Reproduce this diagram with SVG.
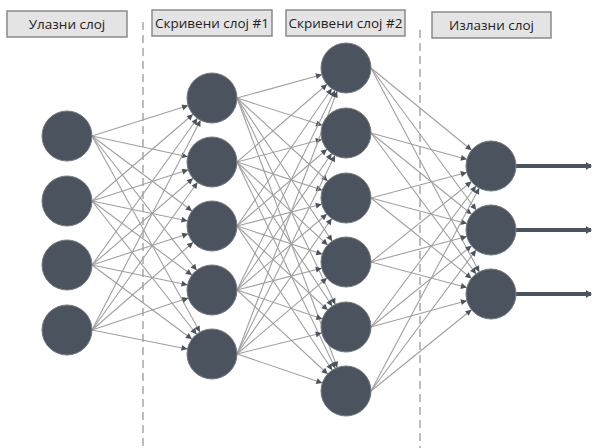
<svg xmlns="http://www.w3.org/2000/svg" width="593" height="448" viewBox="0 0 593 448">
<style>
.lbl rect{fill:#e4e4e4;stroke:#8a8a8a;stroke-width:1.5}
.lbl text{font-family:"Open Sans","Liberation Sans",sans-serif;font-size:13.5px;fill:#222;text-anchor:middle}
.sep{stroke:#a8a8a8;stroke-width:1.5;stroke-dasharray:8 5;fill:none}
.c line{stroke:#a0a0a0;stroke-width:1.1;marker-end:url(#ah)}
.n{fill:#4b545e;stroke:#737a82;stroke-width:1}
.o{stroke:#4b545e;stroke-width:4;marker-end:url(#oh)}
</style>
<defs>
<marker id="ah" viewBox="-10 -5 40 10" refX="25" refY="0" markerWidth="40" markerHeight="10" markerUnits="userSpaceOnUse" orient="auto" overflow="visible">
<path d="M-6,-3 L0,0 L-6,3 z" fill="#4b545e"/>
</marker>
<marker id="oh" viewBox="0 -4 6 8" refX="5" refY="0" markerWidth="6" markerHeight="8" markerUnits="userSpaceOnUse" orient="auto">
<path d="M0,-4 L6,0 L0,4 z" fill="#4b545e"/>
</marker>
</defs>
<rect width="593" height="448" fill="#fff"/>
<g id="separators">
<line class="sep" x1="143" y1="22" x2="143" y2="448"/>
<line class="sep" x1="420" y1="30" x2="420" y2="448"/>
</g>
<g id="labels">
<g class="lbl" id="lbl-input"><rect x="7" y="11" width="120" height="26"/><text x="67" y="28.5">Улазни слој</text></g>
<g class="lbl" id="lbl-h1"><rect x="152" y="10" width="120" height="26"/><text x="212" y="27.5">Скривени слој #1</text></g>
<g class="lbl" id="lbl-h2"><rect x="286" y="10" width="119" height="26"/><text x="345.5" y="27.5">Скривени слој #2</text></g>
<g class="lbl" id="lbl-out"><rect x="432" y="12" width="119" height="26"/><text x="491.5" y="29.5">Излазни слој</text></g>
</g>
<g id="connectors" class="c">
<line x1="92" y1="136" x2="212" y2="98"/><line x1="92" y1="136" x2="212" y2="162"/><line x1="92" y1="136" x2="212" y2="226"/><line x1="92" y1="136" x2="212" y2="290"/><line x1="92" y1="136" x2="212" y2="354"/>
<line x1="92" y1="201" x2="212" y2="98"/><line x1="92" y1="201" x2="212" y2="162"/><line x1="92" y1="201" x2="212" y2="226"/><line x1="92" y1="201" x2="212" y2="290"/><line x1="92" y1="201" x2="212" y2="354"/>
<line x1="92" y1="265" x2="212" y2="98"/><line x1="92" y1="265" x2="212" y2="162"/><line x1="92" y1="265" x2="212" y2="226"/><line x1="92" y1="265" x2="212" y2="290"/><line x1="92" y1="265" x2="212" y2="354"/>
<line x1="92" y1="330" x2="212" y2="98"/><line x1="92" y1="330" x2="212" y2="162"/><line x1="92" y1="330" x2="212" y2="226"/><line x1="92" y1="330" x2="212" y2="290"/><line x1="92" y1="330" x2="212" y2="354"/>
<line x1="237" y1="98" x2="346" y2="68"/><line x1="237" y1="98" x2="346" y2="133"/><line x1="237" y1="98" x2="346" y2="198"/><line x1="237" y1="98" x2="346" y2="262"/><line x1="237" y1="98" x2="346" y2="327"/><line x1="237" y1="98" x2="346" y2="391"/>
<line x1="237" y1="162" x2="346" y2="68"/><line x1="237" y1="162" x2="346" y2="133"/><line x1="237" y1="162" x2="346" y2="198"/><line x1="237" y1="162" x2="346" y2="262"/><line x1="237" y1="162" x2="346" y2="327"/><line x1="237" y1="162" x2="346" y2="391"/>
<line x1="237" y1="226" x2="346" y2="68"/><line x1="237" y1="226" x2="346" y2="133"/><line x1="237" y1="226" x2="346" y2="198"/><line x1="237" y1="226" x2="346" y2="262"/><line x1="237" y1="226" x2="346" y2="327"/><line x1="237" y1="226" x2="346" y2="391"/>
<line x1="237" y1="290" x2="346" y2="68"/><line x1="237" y1="290" x2="346" y2="133"/><line x1="237" y1="290" x2="346" y2="198"/><line x1="237" y1="290" x2="346" y2="262"/><line x1="237" y1="290" x2="346" y2="327"/><line x1="237" y1="290" x2="346" y2="391"/>
<line x1="237" y1="354" x2="346" y2="68"/><line x1="237" y1="354" x2="346" y2="133"/><line x1="237" y1="354" x2="346" y2="198"/><line x1="237" y1="354" x2="346" y2="262"/><line x1="237" y1="354" x2="346" y2="327"/><line x1="237" y1="354" x2="346" y2="391"/>
<line x1="371" y1="68" x2="491" y2="166"/><line x1="371" y1="68" x2="491" y2="230"/><line x1="371" y1="68" x2="491" y2="294"/>
<line x1="371" y1="133" x2="491" y2="166"/><line x1="371" y1="133" x2="491" y2="230"/><line x1="371" y1="133" x2="491" y2="294"/>
<line x1="371" y1="198" x2="491" y2="166"/><line x1="371" y1="198" x2="491" y2="230"/><line x1="371" y1="198" x2="491" y2="294"/>
<line x1="371" y1="262" x2="491" y2="166"/><line x1="371" y1="262" x2="491" y2="230"/><line x1="371" y1="262" x2="491" y2="294"/>
<line x1="371" y1="327" x2="491" y2="166"/><line x1="371" y1="327" x2="491" y2="230"/><line x1="371" y1="327" x2="491" y2="294"/>
<line x1="371" y1="391" x2="491" y2="166"/><line x1="371" y1="391" x2="491" y2="230"/><line x1="371" y1="391" x2="491" y2="294"/>
</g>
<g id="outputs">
<line class="o" x1="516" y1="166" x2="591" y2="166"/>
<line class="o" x1="516" y1="230" x2="591" y2="230"/>
<line class="o" x1="516" y1="294" x2="591" y2="294"/>
</g>
<g id="input-layer">
<g id="in1"><circle class="n" cx="67" cy="136" r="25"/></g>
<g id="in2"><circle class="n" cx="67" cy="201" r="25"/></g>
<g id="in3"><circle class="n" cx="67" cy="265" r="25"/></g>
<g id="in4"><circle class="n" cx="67" cy="330" r="25"/></g>
</g>
<g id="hidden1">
<g id="h1a"><circle class="n" cx="212" cy="98" r="25"/></g>
<g id="h1b"><circle class="n" cx="212" cy="162" r="25"/></g>
<g id="h1c"><circle class="n" cx="212" cy="226" r="25"/></g>
<g id="h1d"><circle class="n" cx="212" cy="290" r="25"/></g>
<g id="h1e"><circle class="n" cx="212" cy="354" r="25"/></g>
</g>
<g id="hidden2">
<g id="h2a"><circle class="n" cx="346" cy="68" r="25"/></g>
<g id="h2b"><circle class="n" cx="346" cy="133" r="25"/></g>
<g id="h2c"><circle class="n" cx="346" cy="198" r="25"/></g>
<g id="h2d"><circle class="n" cx="346" cy="262" r="25"/></g>
<g id="h2e"><circle class="n" cx="346" cy="327" r="25"/></g>
<g id="h2f"><circle class="n" cx="346" cy="391" r="25"/></g>
</g>
<g id="output-layer">
<g id="out1"><circle class="n" cx="491" cy="166" r="25"/></g>
<g id="out2"><circle class="n" cx="491" cy="230" r="25"/></g>
<g id="out3"><circle class="n" cx="491" cy="294" r="25"/></g>
</g>
</svg>
